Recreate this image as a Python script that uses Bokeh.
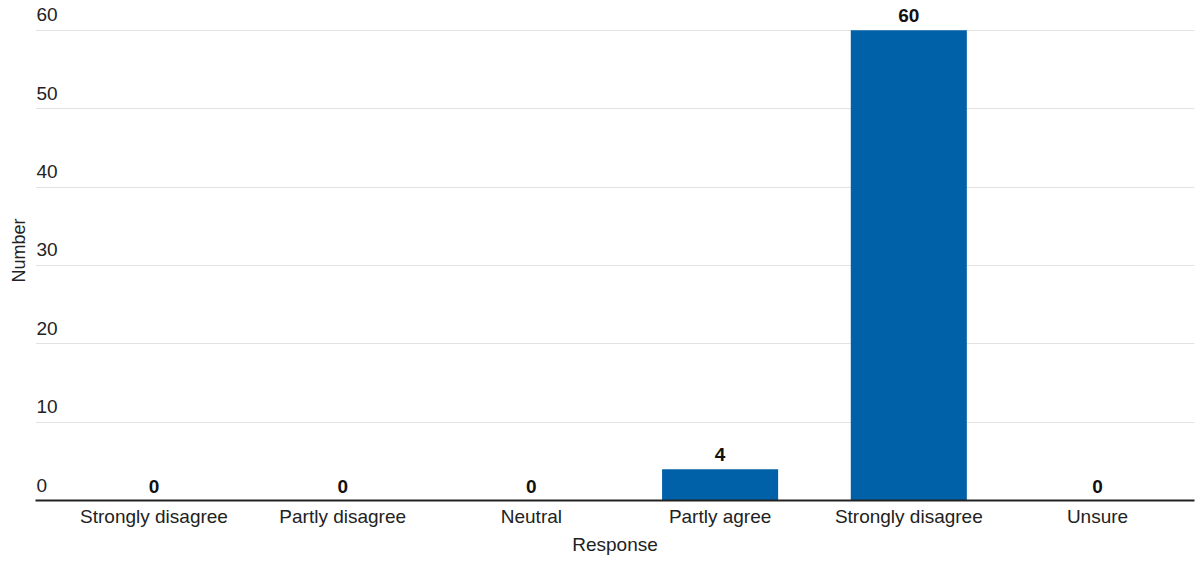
from bokeh.plotting import figure
from bokeh.models import ColumnDataSource, FixedTicker, Range1d
from bokeh.core.properties import value
from bokeh.embed import file_html
from bokeh.resources import INLINE

categories = ["Strongly disagree", "Partly disagree", "Neutral", "Partly agree", "Strongly disagree", "Unsure"]
counts = [0, 0, 0, 4, 60, 0]
y_ticks = [0, 10, 20, 30, 40, 50, 60]

FONT = "Liberation Sans"
BAR = "#0060A8"

xs = list(range(len(categories)))
src = ColumnDataSource(dict(x=xs, top=counts, label=[str(c) for c in counts]))

x_start, x_end = -0.628, 5.514
p = figure(width=1197, height=557, output_backend="svg", toolbar_location=None,
           x_range=Range1d(x_start, x_end), y_range=Range1d(0, 63.8),
           min_border_left=35, min_border_right=3, min_border_top=0, min_border_bottom=54)
p.outline_line_color = None
p.background_fill_color = "white"

p.vbar(x="x", top="top", width=0.615, source=src, color=BAR, line_color=None)

p.text(x="x", y="top", text="label", source=src, text_align="center", text_baseline="bottom",
       y_offset=-8, text_font=value(FONT), text_font_style="bold", text_font_size="19px", text_color="#111111")

# y tick labels drawn inside the plot, above each gridline
tsrc = ColumnDataSource(dict(x=[x_start] * len(y_ticks), y=y_ticks, t=[str(v) for v in y_ticks]))
p.text(x="x", y="y", text="t", source=tsrc, text_align="left", text_baseline="bottom",
       x_offset=1, y_offset=-9, text_font=value(FONT), text_font_size="19px", text_color="#222222")

p.ygrid.ticker = FixedTicker(ticks=y_ticks)
p.ygrid.grid_line_color = "#e2e2e2"
p.xgrid.grid_line_color = None

p.yaxis.ticker = FixedTicker(ticks=[])
p.yaxis.major_label_standoff = 0
p.yaxis.major_tick_out = 0
p.yaxis.major_tick_in = 0
p.yaxis.minor_tick_out = 0
p.yaxis.minor_tick_in = 0
p.yaxis.major_tick_line_color = None
p.yaxis.minor_tick_line_color = None
p.yaxis.axis_line_color = None
p.yaxis.axis_label = "Number"
p.yaxis.axis_label_standoff = 7
p.yaxis.axis_label_text_font = FONT
p.yaxis.axis_label_text_font_size = "18px"
p.yaxis.axis_label_text_font_style = "normal"
p.yaxis.axis_label_text_color = "#222222"

p.xaxis.ticker = FixedTicker(ticks=xs)
p.xaxis.major_label_overrides = {i: c for i, c in enumerate(categories)}
p.xaxis.major_label_text_font = FONT
p.xaxis.major_label_text_font_size = "19px"
p.xaxis.major_label_text_color = "#222222"
p.xaxis.major_label_standoff = -1
p.xaxis.major_tick_line_color = None
p.xaxis.minor_tick_line_color = None
p.xaxis.axis_line_color = "#222222"
p.xaxis.axis_line_width = 2
p.xaxis.axis_label = "Response"
p.xaxis.axis_label_standoff = 4
p.xaxis.axis_label_text_font = FONT
p.xaxis.axis_label_text_font_size = "19px"
p.xaxis.axis_label_text_font_style = "normal"
p.xaxis.axis_label_text_color = "#222222"

open("out.html", "w").write(file_html(p, INLINE))
